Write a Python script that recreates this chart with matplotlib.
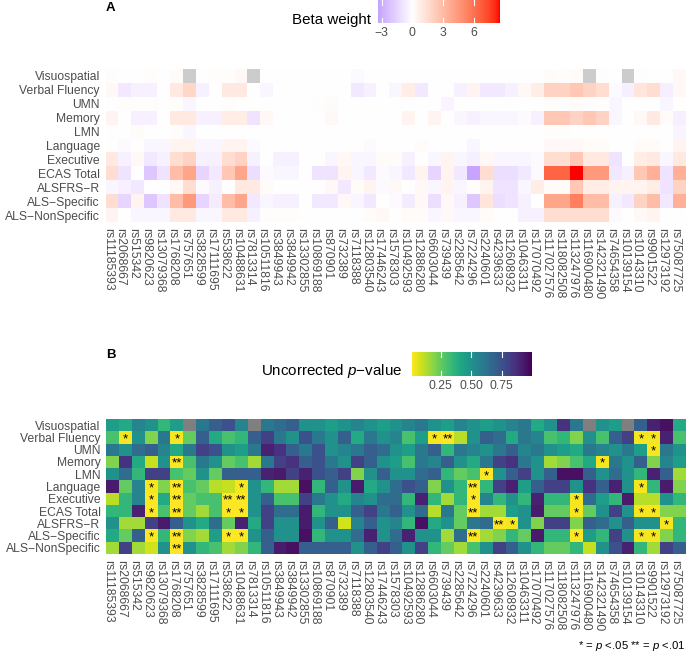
import numpy as np
import matplotlib.pyplot as plt
from matplotlib.colors import ListedColormap, Normalize

plt.rcParams['font.family'] = ['Liberation Sans', 'DejaVu Sans']
plt.rcParams['mathtext.fontset'] = 'custom'
plt.rcParams['mathtext.it'] = 'Liberation Sans:italic'
plt.rcParams['mathtext.rm'] = 'Liberation Sans'

nan = np.nan

outcomes = ['Visuospatial', 'Verbal Fluency', 'UMN', 'Memory', 'LMN', 'Language',
            'Executive', 'ECAS Total', 'ALSFRS\u2212R', 'ALS\u2212Specific', 'ALS\u2212NonSpecific']

snps = ['rs11185393', 'rs2068667', 'rs515342', 'rs9820623', 'rs13079368', 'rs1768208',
        'rs757651', 'rs3828599', 'rs17111695', 'rs538622', 'rs10488631', 'rs7813314',
        'rs10511816', 'rs3849943', 'rs3849942', 'rs13302855', 'rs10869188', 'rs870901',
        'rs732389', 'rs7118388', 'rs12803540', 'rs17446243', 'rs1578303', 'rs10492593',
        'rs12886280', 'rs6603044', 'rs739439', 'rs2285642', 'rs7224296', 'rs2240601',
        'rs4239633', 'rs12608932', 'rs10463311', 'rs17070492', 'rs117027576', 'rs118082508',
        'rs113247976', 'rs116900480', 'rs142321490', 'rs74654358', 'rs10139154', 'rs10143310',
        'rs9901522', 'rs12973192', 'rs75087725']

# beta weights, one list per outcome (rows in the order of `outcomes`)
beta = [
    [0.1, 0, 0, 0.1, 0, 0.2, nan, 0, 0.1, 0.1, 0.3, nan, 0, 0, 0, 0, 0, 0, 0, -0.2, 0, 0, 0, 0,
     0, 0, 0, 0, 0, 0, 0, 0, 0, 0, 0.2, 0.1, 0.2, nan, 0.1, 0, nan, 0.1, 0, 0, 0.3],
    [0.3, -0.8, -0.5, -0.5, 0, 1.0, 1.8, -0.5, 0, 1.0, 1.0, 0, -0.3, 0, 0, 0, 0, 0, 0, -0.8,
     -0.5, 0, -0.3, 0.8, -0.8, 0, 0, -0.5, 0.5, -0.8, -0.8, -0.5, 0.3, 0.8, 2.0, 2.0, 2.5, 2.0,
     1.5, -0.2, -0.6, 1.2, 1.5, -0.6, 0.3],
    [0, 0.1, 0.1, 0.1, 0, 0.1, -0.3, 0, 0, 0.1, 0, 0, 0, 0, 0, 0, 0.1, 0.2, 0, 0, 0, 0, 0, 0,
     0, 0, -0.4, 0, 0, 0, 0, 0, 0, 0, 0.1, 0.1, 0.2, 0.1, 0, -0.3, 0, 0, 0, -0.3, 0],
    [0.5, 0, -0.5, -0.5, 0, 1.0, 1.0, -0.5, -0.5, 0.8, 0.8, -1.0, 0.3, 0, 0, 0, 0, 0.3, 0, 0,
     0, 0, 0, 0.5, 0, 0.5, 0, -0.3, -0.5, -0.3, -0.3, -0.3, -0.2, -0.5, 2.5, 2.5, 2.0, 2.5,
     2.0, -0.3, 0, 0.3, 1.0, 0.2, -0.6],
    [0, 0, 0.2, 0, 0, 0.1, -0.3, 0, 0, 0, 0, 0, 0, 0, 0, 0, 0, 0, 0, 0, 0, 0, 0, 0, 0, 0,
     0, 0, 0, 0, 0, 0, 0, 0, 0.1, 0.1, 0, 0, 0, 0, 0, 0, 0, 0, -0.4],
    [0, -0.2, 0, -0.3, -0.3, 0.5, 0.5, -0.3, -0.3, 0.5, 0.5, -0.2, 0, 0, 0, 0, 0, 0, 0, 0,
     -0.2, 0, 0, 0, 0.2, 0, 0, 0, -0.3, 0, 0, 0, 0, 0, 0.3, 0.3, 0.3, 0.2, 0.2, 0, 0, 0.2,
     0.2, 0, 0.5],
    [1.0, -0.5, 0.3, -0.8, -0.5, 1.5, 2.0, -0.5, -0.5, 1.5, 2.0, -0.5, 0, -0.5, -0.5, 0, 0,
     -0.3, 0.3, -0.3, -0.3, 0.2, 0.2, -0.5, 0, -0.3, 0.5, -0.3, -0.6, 0.3, -0.3, -0.3, -0.3,
     -0.2, 1.5, 1.5, 2.5, 1.0, 1.0, -1.0, 0, 0.8, 1.0, -0.3, 1.0],
    [1.5, -1.0, 0, -2.0, -1.0, 3.0, 4.0, -1.5, -0.8, 2.5, 4.0, -1.2, -0.2, -0.3, -0.3, 0, -1.0,
     -1.0, 0.5, -0.3, -0.8, -0.2, -0.3, -0.8, 0.5, -1.5, 0.5, -0.8, -3.35, 1.5, -1.2, -1.2,
     -0.8, -0.2, 6.5, 6.5, 8.57, 4.5, 4.5, -0.8, -0.5, 2.5, 3.5, -1.0, 3.5],
    [-0.3, -0.5, -0.8, 0, 0, 0.3, 1.5, -0.2, -0.5, 0, 1.0, 1.0, 0.2, 0, 0, 0, 0, 0.3, -0.8,
     0.2, 0.5, -0.2, 0.3, 0, 0.3, -0.3, 0.5, -0.3, 0.1, 0.5, -1.0, -1.0, -0.3, 0.8, 0.2, 0.2,
     2.5, 0.8, 0.8, 0.5, 0.5, 0.5, 0.8, -1.0, 2.0],
    [1.5, -1.5, 0.5, -2.0, -1.0, 3.0, 4.5, -1.5, -0.7, 3.0, 4.0, -0.8, -0.3, -0.5, -0.5, 0,
     -0.8, -0.8, 0.3, -0.3, -0.8, 0, -0.2, -0.7, 0.3, -1.2, 0.3, -0.5, -2.0, 1.2, -1.2, -1.0,
     -0.5, 0, 4.0, 4.0, 5.5, 3.0, 3.0, -0.5, -0.8, 2.0, 3.0, -0.8, 3.5],
    [0.5, 0, -0.3, -0.3, -0.3, 1.0, 1.0, -0.3, -0.3, 1.0, 1.0, -0.5, 0.1, 0.1, 0.1, 0, 0, 0,
     0, 0, 0.2, 0.3, 0, 0.2, 0.2, -0.3, 0.3, -0.3, -0.3, 0.2, 0, 0, -0.5, -0.5, 1.5, 1.5, 1.5,
     1.5, 1.5, -0.2, 0, 0.3, 0.5, 0, 0],
]

# uncorrected p-values, same layout
pval = [
    [0.45, 0.4, 0.55, 0.5, 0.35, 0.45, nan, 0.6, 0.7, 0.75, 0.55, nan, 0.6, 0.65, 0.7, 0.5,
     0.5, 0.45, 0.5, 0.55, 0.5, 0.45, 0.5, 0.55, 0.6, 0.5, 0.45, 0.55, 0.5, 0.45, 0.5, 0.55,
     0.6, 0.4, 0.5, 0.85, 0.6, nan, 0.5, 0.45, nan, 0.7, 0.9, 0.95, 0.4],
    [0.3, 0.03, 0.5, 0.2, 0.6, 0.03, 0.25, 0.7, 0.4, 0.3, 0.35, 0.7, 0.8, 0.6, 0.5, 0.75, 0.6,
     0.5, 0.7, 0.4, 0.6, 0.5, 0.55, 0.3, 0.45, 0.03, 0.008, 0.12, 0.5, 0.7, 0.65, 0.4, 0.6,
     0.55, 0.3, 0.35, 0.2, 0.5, 0.3, 0.7, 0.8, 0.03, 0.03, 0.9, 0.3],
    [0.6, 0.5, 0.65, 0.7, 0.55, 0.4, 0.6, 0.8, 0.75, 0.5, 0.45, 0.6, 0.9, 0.85, 0.7, 0.6, 0.75,
     0.5, 0.55, 0.6, 0.7, 0.65, 0.5, 0.45, 0.6, 0.7, 0.35, 0.6, 0.55, 0.5, 0.6, 0.7, 0.55,
     0.6, 0.5, 0.45, 0.4, 0.6, 0.55, 0.5, 0.6, 0.45, 0.03, 0.6, 0.5],
    [0.2, 0.85, 0.4, 0.1, 0.5, 0.005, 0.3, 0.6, 0.5, 0.25, 0.3, 0.15, 0.6, 0.8, 0.85, 0.7,
     0.75, 0.6, 0.5, 0.8, 0.7, 0.5, 0.45, 0.3, 0.6, 0.55, 0.7, 0.5, 0.4, 0.6, 0.8, 0.85, 0.6,
     0.5, 0.15, 0.2, 0.3, 0.4, 0.03, 0.6, 0.5, 0.7, 0.2, 0.55, 0.45],
    [0.5, 0.65, 0.35, 0.8, 0.8, 0.3, 0.25, 0.5, 0.25, 0.7, 0.7, 0.7, 0.9, 0.92, 0.8, 0.9, 0.75,
     0.7, 0.8, 0.2, 0.5, 0.7, 0.5, 0.5, 0.65, 0.7, 0.35, 0.25, 0.3, 0.02, 0.5, 0.7, 0.8, 0.5,
     0.7, 0.95, 0.95, 0.7, 0.5, 0.65, 0.5, 0.35, 0.9, 0.7, 0.15],
    [0.92, 0.25, 0.55, 0.03, 0.2, 0.005, 0.3, 0.25, 0.12, 0.1, 0.03, 0.5, 0.35, 0.15, 0.15,
     0.95, 0.35, 0.7, 0.5, 0.92, 0.4, 0.5, 0.65, 0.75, 0.7, 0.2, 0.5, 0.35, 0.005, 0.35, 0.8,
     0.9, 0.45, 0.7, 0.8, 0.8, 0.5, 0.85, 0.7, 0.9, 0.5, 0.03, 0.35, 0.92, 0.2],
    [0.12, 0.35, 0.55, 0.02, 0.4, 0.005, 0.25, 0.3, 0.3, 0.005, 0.005, 0.5, 0.7, 0.3, 0.3, 0.8,
     0.6, 0.5, 0.4, 0.55, 0.5, 0.65, 0.65, 0.35, 0.9, 0.35, 0.15, 0.35, 0.02, 0.55, 0.35, 0.5,
     0.35, 0.9, 0.35, 0.35, 0.03, 0.65, 0.45, 0.35, 0.92, 0.12, 0.12, 0.5, 0.35],
    [0.35, 0.35, 0.9, 0.02, 0.3, 0.005, 0.25, 0.15, 0.3, 0.02, 0.02, 0.5, 0.8, 0.65, 0.65,
     0.92, 0.35, 0.5, 0.5, 0.7, 0.8, 0.6, 0.7, 0.5, 0.65, 0.12, 0.6, 0.25, 0.005, 0.15, 0.15,
     0.45, 0.5, 0.92, 0.25, 0.25, 0.03, 0.25, 0.5, 0.8, 0.5, 0.03, 0.03, 0.2, 0.2],
    [0.5, 0.15, 0.15, 0.8, 0.92, 0.7, 0.5, 0.4, 0.65, 0.25, 0.9, 0.4, 0.8, 0.5, 0.5, 0.92, 0.5,
     0.7, 0.08, 0.55, 0.7, 0.5, 0.55, 0.35, 0.95, 0.4, 0.5, 0.25, 0.6, 0.65, 0.005, 0.03, 0.5,
     0.2, 0.8, 0.8, 0.2, 0.7, 0.65, 0.5, 0.7, 0.5, 0.5, 0.03, 0.35],
    [0.4, 0.25, 0.7, 0.02, 0.35, 0.005, 0.2, 0.15, 0.45, 0.02, 0.02, 0.5, 0.7, 0.5, 0.5, 0.95,
     0.35, 0.5, 0.5, 0.65, 0.9, 0.5, 0.65, 0.9, 0.5, 0.5, 0.15, 0.65, 0.005, 0.15, 0.2, 0.35,
     0.25, 0.92, 0.35, 0.35, 0.02, 0.45, 0.35, 0.8, 0.5, 0.03, 0.03, 0.2, 0.35],
    [0.15, 0.8, 0.15, 0.08, 0.5, 0.005, 0.5, 0.35, 0.3, 0.15, 0.2, 0.35, 0.7, 0.92, 0.95, 0.7,
     0.7, 0.7, 0.7, 0.5, 0.7, 0.8, 0.7, 0.5, 0.8, 0.35, 0.25, 0.15, 0.3, 0.5, 0.8, 0.7, 0.5,
     0.35, 0.25, 0.25, 0.35, 0.1, 0.5, 0.75, 0.9, 0.35, 0.15, 0.8, 0.7],
]


def hex2rgb(h):
    h = h.lstrip('#')
    return np.array([int(h[i:i + 2], 16) / 255 for i in (0, 2, 4)])


def rgb2lab(c):
    c = np.where(c > 0.04045, ((c + 0.055) / 1.055) ** 2.4, c / 12.92)
    m = np.array([[0.4124, 0.3576, 0.1805], [0.2126, 0.7152, 0.0722], [0.0193, 0.1192, 0.9505]])
    xyz = m @ c / np.array([0.95047, 1.0, 1.08883])
    f = np.where(xyz > 0.008856, np.cbrt(xyz), 7.787 * xyz + 16 / 116)
    return np.array([116 * f[1] - 16, 500 * (f[0] - f[1]), 200 * (f[1] - f[2])])


def lab2rgb(lab):
    fy = (lab[0] + 16) / 116
    f = np.array([fy + lab[1] / 500, fy, fy - lab[2] / 200])
    xyz = np.where(f ** 3 > 0.008856, f ** 3, (f - 16 / 116) / 7.787) * np.array([0.95047, 1.0, 1.08883])
    m = np.array([[3.2406, -1.5372, -0.4986], [-0.9689, 1.8758, 0.0415], [0.0557, -0.2040, 1.0570]])
    c = np.clip(m @ xyz, 0, 1)
    c = np.where(c > 0.0031308, 1.055 * c ** (1 / 2.4) - 0.055, 12.92 * c)
    return np.clip(c, 0, 1)


# diverging blue-white-red in Lab, centred on 0 and symmetric like ggplot's gradient2
b_lo, b_hi = -3.35, 8.57
lab_lo, lab_mid, lab_hi = rgb2lab(hex2rgb('#0000FF')), rgb2lab(hex2rgb('#FFFFFF')), rgb2lab(hex2rgb('#FF0000'))
vals = np.linspace(b_lo, b_hi, 256)
cols = []
for v in vals:
    t = min(abs(v) / b_hi, 1)
    end = lab_lo if v < 0 else lab_hi
    cols.append(lab2rgb(lab_mid + t * (end - lab_mid)))
beta_cmap = ListedColormap(cols)
beta_cmap.set_bad('#cccccc')

p_cmap = plt.get_cmap('viridis_r').copy()
p_cmap.set_bad('#7f7f7f')

W, H = 688, 657
fig = plt.figure(figsize=(W / 100, H / 100), dpi=100)


def fax(x0, y0, x1, y1):
    return fig.add_axes([x0 / W, 1 - y1 / H, (x1 - x0) / W, (y1 - y0) / H])


grey30 = '#4d4d4d'
tick_fs = 8.7


def heat(ax, data, cmap, norm):
    arr = np.array(data, dtype=float)
    ax.pcolormesh(np.arange(len(snps) + 1), np.arange(len(outcomes) + 1),
                  np.ma.masked_invalid(arr), cmap=cmap, norm=norm)
    ax.set_xlim(0, len(snps))
    ax.set_ylim(len(outcomes), 0)
    ax.set_yticks(np.arange(len(outcomes)) + 0.5)
    ax.set_yticklabels(outcomes, fontsize=tick_fs, color=grey30)
    ax.set_xticks(np.arange(len(snps)) + 0.17)
    ax.set_xticklabels(snps, rotation=270, fontsize=tick_fs, color=grey30, ha='center', va='top')
    ax.tick_params(length=0, pad=4)
    for s in ax.spines.values():
        s.set_visible(False)
    return arr


def colorbar(cax, cmap, norm, ticks, labels):
    grad = np.linspace(norm.vmin, norm.vmax, 300)[None, :]
    cax.imshow(grad, aspect='auto', cmap=cmap, norm=norm,
               extent=[norm.vmin, norm.vmax, 0, 1])
    cax.set_xlim(norm.vmin, norm.vmax)
    cax.set_ylim(0, 1)
    for t in ticks:
        cax.plot([t, t], [0, 0.2], color='white', lw=0.8)
        cax.plot([t, t], [0.8, 1], color='white', lw=0.8)
    cax.set_xticks(ticks)
    cax.set_xticklabels(labels, fontsize=tick_fs, color=grey30)
    cax.set_yticks([])
    cax.tick_params(length=0, pad=3)
    for s in cax.spines.values():
        s.set_visible(False)


# panel A
axA = fax(105.5, 69, 686, 222)
heat(axA, beta, beta_cmap, Normalize(b_lo, b_hi))
caxA = fax(378, 0, 500, 23)
colorbar(caxA, beta_cmap, Normalize(b_lo, b_hi), [-3, 0, 3, 6], ['\u22123', '0', '3', '6'])
fig.text(371 / W, 1 - 24 / H, 'Beta weight', ha='right', va='baseline', fontsize=10.9)
fig.text(106 / W, 1 - 8 / H, 'A', ha='left', va='center', fontsize=9.5, fontweight='bold')

# panel B
axB = fax(106, 419, 686, 554)
parr = heat(axB, pval, p_cmap, Normalize(0.015, 0.99))
caxB = fax(412, 352, 531, 376)
colorbar(caxB, p_cmap, Normalize(0.015, 0.99), [0.25, 0.5, 0.75], ['0.25', '0.50', '0.75'])
fig.text(402 / W, 1 - 375 / H, 'Uncorrected $p$\u2212value', ha='right', va='baseline', fontsize=10.9)
fig.text(106 / W, 1 - 355 / H, 'B', ha='left', va='center', fontsize=9.5, fontweight='bold')

# significance stars drawn from the p-values themselves
for r in range(parr.shape[0]):
    for c in range(parr.shape[1]):
        p = parr[r, c]
        if np.isnan(p) or p >= 0.05:
            continue
        star = '**' if p < 0.01 else '*'
        axB.text(c + 0.5, r + 0.66, star, ha='center', va='center', fontsize=9.6, color='black')

fig.text(686 / W, 1 - 646 / H, '* = $p$ <.05 ** = $p$ <.01', ha='right', va='center',
         fontsize=8.2, color='black')

fig.savefig('out.png', dpi=100)
